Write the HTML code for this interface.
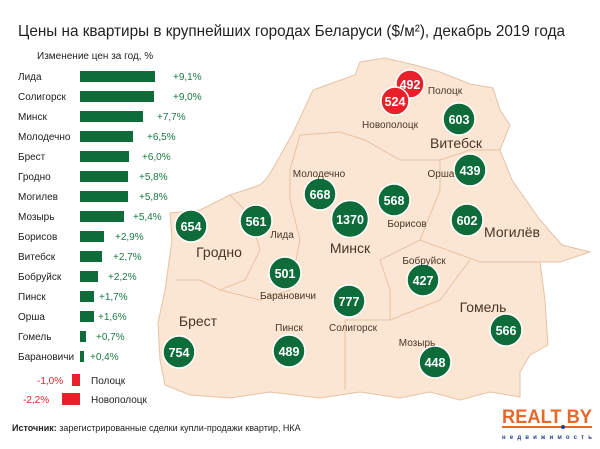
<!DOCTYPE html>
<html><head><meta charset="utf-8"><style>
body{margin:0;background:#fff}
svg{display:block;font-family:"Liberation Sans","DejaVu Sans",sans-serif}
.l{font-size:10px;fill:#222}
.v{font-size:10px;fill:#1a7a45}
.r{font-size:10px;fill:#e8202a}
.c{font-size:12.5px;fill:#fff;font-weight:bold;text-anchor:middle}
.m{font-size:10px;fill:#4a3426;text-anchor:middle}
.M{font-size:14px;fill:#4a3426;text-anchor:middle}
</style></head><body>
<svg width="600" height="449" viewBox="0 0 600 449">
<text x="18" y="36" font-size="16" fill="#222" textLength="547" lengthAdjust="spacingAndGlyphs">Цены на квартиры в крупнейших городах Беларуси ($/м²), декабрь 2019 года</text>
<text x="37" y="59" font-size="10" fill="#222">Изменение цен за год, %</text>
<path d="M360,62 L385,58 L415,65 L440,72 L470,84 L493,88 L500,110 L510,125 L500,150 L512,180 L540,220 L562,245 L590,252 L560,262 L540,262 L545,300 L548,345 L530,355 L520,372 L520,397 L490,392 L460,400 L430,392 L400,398 L360,392 L320,398 L270,392 L230,398 L190,395 L165,385 L160,360 L158,323 L165,290 L172,240 L170,213 L200,210 L230,195 L260,185 L267,178 L275,165 L293,133 L300,118 L313,90 L335,82 L355,75 Z" fill="#fae6d2" stroke="#e6c3a6" stroke-width="1"/>
<g fill="none" stroke="#e6c3a6" stroke-width="1">
<path d="M300,135 L340,132 L365,140 L400,160 L440,160 L470,150 L500,150"/>
<path d="M230,195 L250,215 L260,250 L245,280 L220,290 L200,280 L175,280"/>
<path d="M300,135 L290,170 L290,200 L300,240 L290,290 L260,300 L220,290"/>
<path d="M440,160 L440,190 L420,240 L380,260 L390,290 L390,320 L345,320 L345,390"/>
<path d="M420,240 L480,262 L540,262"/>
<path d="M390,320 L440,300 L470,260"/>
</g>
<g class="l">
<text x="18" y="80">Лида</text><text x="18" y="100">Солигорск</text><text x="18" y="120">Минск</text><text x="18" y="140">Молодечно</text><text x="18" y="160">Брест</text><text x="18" y="180">Гродно</text><text x="18" y="200">Могилев</text><text x="18" y="220">Мозырь</text><text x="18" y="240">Борисов</text><text x="18" y="260">Витебск</text><text x="18" y="280">Бобруйск</text><text x="18" y="300">Пинск</text><text x="18" y="320">Орша</text><text x="18" y="340">Гомель</text><text x="18" y="360">Барановичи</text>
</g>
<g fill="#0e6b3a">
<rect x="80" y="71" width="75" height="11"/><rect x="80" y="91" width="74" height="11"/><rect x="80" y="111" width="63" height="11"/><rect x="80" y="131" width="53" height="11"/><rect x="80" y="151" width="49" height="11"/><rect x="80" y="171" width="48" height="11"/><rect x="80" y="191" width="48" height="11"/><rect x="80" y="211" width="44" height="11"/><rect x="80" y="231" width="24" height="11"/><rect x="80" y="251" width="22" height="11"/><rect x="80" y="271" width="18" height="11"/><rect x="80" y="291" width="14" height="11"/><rect x="80" y="311" width="14" height="11"/><rect x="80" y="331" width="6" height="11"/><rect x="80" y="351" width="4" height="11"/>
</g>
<g class="v">
<text x="173" y="80">+9,1%</text><text x="173" y="100">+9,0%</text><text x="157" y="120">+7,7%</text><text x="147" y="140">+6,5%</text><text x="142" y="160">+6,0%</text><text x="139" y="180">+5,8%</text><text x="139" y="200">+5,8%</text><text x="133" y="220">+5,4%</text><text x="115" y="240">+2,9%</text><text x="113" y="260">+2,7%</text><text x="108" y="280">+2,2%</text><text x="99" y="300">+1,7%</text><text x="98" y="320">+1,6%</text><text x="96" y="340">+0,7%</text><text x="90" y="360">+0,4%</text>
</g>
<rect x="72" y="374" width="8" height="12" fill="#e8202a"/>
<rect x="62" y="393" width="18" height="12" fill="#e8202a"/>
<text class="r" x="37" y="384">-1,0%</text><text class="r" x="23" y="403">-2,2%</text>
<text class="l" x="91" y="384">Полоцк</text><text class="l" x="91" y="403">Новополоцк</text>
<g fill="#0e6b3a" stroke="#fff" stroke-width="1.5">
<circle cx="191" cy="226" r="16"/><circle cx="256" cy="221" r="16"/><circle cx="320" cy="194" r="16"/><circle cx="350" cy="219" r="18.5"/><circle cx="394" cy="200" r="16"/><circle cx="467" cy="220" r="16"/><circle cx="470" cy="170" r="16"/><circle cx="459" cy="119" r="16"/><circle cx="285" cy="273" r="16"/><circle cx="349" cy="301" r="16"/><circle cx="423" cy="280" r="16"/><circle cx="506" cy="330" r="16"/><circle cx="179" cy="352" r="16"/><circle cx="289" cy="351" r="16"/><circle cx="435" cy="362" r="16"/>
</g>
<g fill="#e8202a" stroke="#fff" stroke-width="1.5"><circle cx="410" cy="84" r="14"/><circle cx="395" cy="101" r="14"/></g>
<g class="c">
<text x="191" y="231">654</text><text x="256" y="226">561</text><text x="320" y="199">668</text><text x="350" y="224">1370</text><text x="394" y="205">568</text><text x="467" y="225">602</text><text x="470" y="175">439</text><text x="459" y="124">603</text><text x="285" y="278">501</text><text x="349" y="306">777</text><text x="423" y="285">427</text><text x="506" y="335">566</text><text x="179" y="357">754</text><text x="289" y="356">489</text><text x="435" y="367">448</text><text x="410" y="89">492</text><text x="395" y="106">524</text>
</g>
<g class="m">
<text x="445" y="94">Полоцк</text><text x="390" y="128">Новополоцк</text><text x="441" y="177">Орша</text><text x="319" y="177">Молодечно</text><text x="407" y="227">Борисов</text><text x="282" y="238">Лида</text><text x="424" y="264">Бобруйск</text><text x="288" y="299">Барановичи</text><text x="353" y="331">Солигорск</text><text x="289" y="331">Пинск</text><text x="417" y="346">Мозырь</text>
</g>
<g class="M">
<text x="456" y="148">Витебск</text><text x="512" y="237">Могилёв</text><text x="219" y="257">Гродно</text><text x="350" y="253">Минск</text><text x="198" y="326">Брест</text><text x="483" y="312">Гомель</text>
</g>
<text x="12" y="431" font-size="9" fill="#222"><tspan font-weight="bold">Источник:</tspan> зарегистрированные сделки купли-продажи квартир, НКА</text>
<text x="502" y="423" font-size="19" font-weight="bold" fill="#e8672a" textLength="90" lengthAdjust="spacingAndGlyphs">REALT BY</text>
<rect x="502" y="426" width="90" height="2" fill="#e8672a"/>
<circle cx="563" cy="427" r="2" fill="#1f3f8a"/>
<text x="502" y="439" font-size="6" font-weight="bold" fill="#1f3f8a" textLength="90" lengthAdjust="spacing">недвижимость</text>
</svg>
</body></html>
